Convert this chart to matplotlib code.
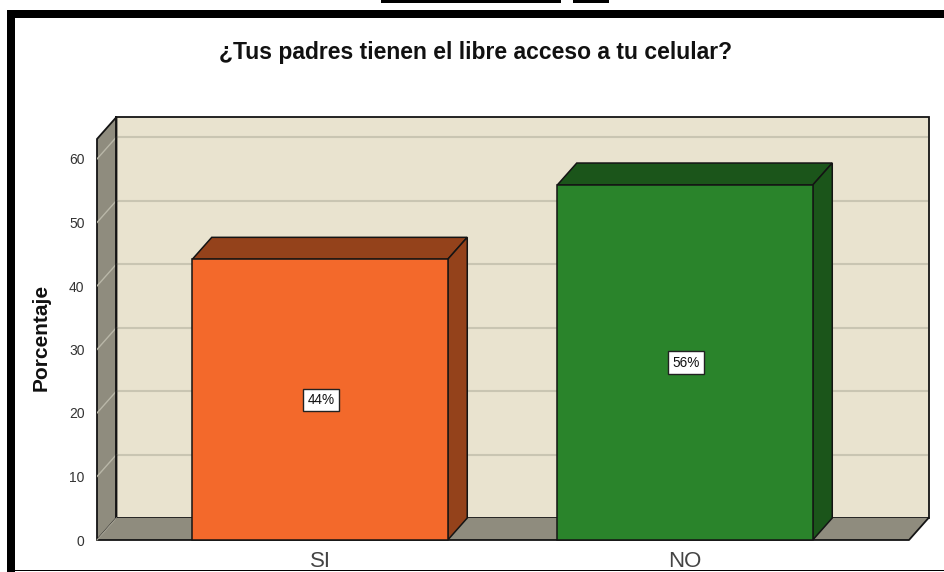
import matplotlib
matplotlib.use("Agg")
import matplotlib.pyplot as plt
from matplotlib.patches import Polygon, Rectangle

plt.rcParams['font.family'] = ['Liberation Sans', 'DejaVu Sans']

categories = ["SI", "NO"]
values = [44.2, 55.9]
value_labels = ["44%", "56%"]
y_ticks = [0, 10, 20, 30, 40, 50, 60]
title = "¿Tus padres tienen el libre acceso a tu celular?"
y_title = "Porcentaje"

W, H = 944, 572
fig = plt.figure(figsize=(W / 100, H / 100), dpi=100, facecolor="white")

ax = fig.add_axes([97 / W, 1 - 540 / H, (928 - 97) / W, (540 - 117) / H])
PX_X = 365.0
PX_Y = 6.35
x0 = -(320 - 97) / PX_X
ax.set_xlim(x0, x0 + (928 - 97) / PX_X)
ax.set_ylim(0, (540 - 117) / PX_Y)
ax.patch.set_visible(False)
for s in ax.spines.values():
    s.set_visible(False)

dx = 19.5 / PX_X
dy = 22 / PX_Y
xmax = x0 + (909 - 97) / PX_X
top = (540 - 139) / PX_Y
WALL = "#e9e3cf"
SIDE = "#8f8c7e"
GRID = "#c9c5b2"
EDGE = "#141414"

ax.add_patch(Rectangle((x0 + dx, dy), xmax - x0, top, fc=WALL, ec=EDGE, lw=1.3, zorder=1, clip_on=False))
ax.add_patch(Polygon([(x0, 0), (x0 + dx, dy), (x0 + dx, top + dy), (x0, top)],
                     fc=SIDE, ec=EDGE, lw=1.3, zorder=2, clip_on=False))
ax.add_patch(Polygon([(x0, 0), (xmax, 0), (xmax + dx, dy), (x0 + dx, dy)],
                     fc=SIDE, ec="none", zorder=2, clip_on=False))
ax.plot([x0, xmax, xmax + dx], [0, 0, dy], color=EDGE, lw=1.3, zorder=2.2, clip_on=False)
ax.plot([x0 + dx, x0 + dx], [0 + dy, top + dy], color=EDGE, lw=1.3, zorder=2.2, clip_on=False)
for t in y_ticks[1:]:
    ax.plot([x0 + dx, xmax + dx], [t + dy, t + dy], color=GRID, lw=1.5, zorder=1.5)
    ax.plot([x0, x0 + dx], [t, t + dy], color="#b9b7a8", lw=1.0, zorder=2.1)
ax.plot([x0, x0 + dx], [0, dy], color="#a5a294", lw=0.8, zorder=2.3, clip_on=False)

bar_w = 0.70
front = ["#f3692b", "#2a842b"]
shade = ["#94421b", "#1b551a"]
for i, (v, lab) in enumerate(zip(values, value_labels)):
    l, r = i - bar_w / 2, i + bar_w / 2
    ax.add_patch(Polygon([(l, v), (r, v), (r + dx, v + dy), (l + dx, v + dy)],
                         fc=shade[i], ec=EDGE, lw=1.1, zorder=3))
    ax.add_patch(Polygon([(r, 0), (r + dx, dy), (r + dx, v + dy), (r, v)],
                         fc=shade[i], ec=EDGE, lw=1.1, zorder=3))
    ax.add_patch(Rectangle((l, 0), bar_w, v, fc=front[i], ec=EDGE, lw=1.1, zorder=4, clip_on=False))
    ax.text(i + 0.003, v / 2, lab, ha="center", va="center", fontsize=9.8, color="#111111",
            zorder=5, bbox=dict(boxstyle="square,pad=0.3", fc="white", ec="#222222", lw=1.0))

ax.set_xticks(range(len(categories)), categories)
ax.set_yticks(y_ticks, [str(t) for t in y_ticks])
ax.tick_params(axis="both", length=0)
ax.tick_params(axis="x", pad=8, labelsize=16, labelcolor="#444444")
ax.tick_params(axis="y", pad=9, labelsize=10, labelcolor="#333333")

fig.text(476 / W, 1 - 52 / H, title, ha="center", va="center", fontsize=16.5,
         fontweight="bold", color="#111111")
fig.text(41 / W, 1 - 337 / H, y_title, rotation=90, ha="center", va="center",
         fontsize=15, fontweight="bold", color="#111111")

def band(x1, y1, x2, y2):
    fig.add_artist(Rectangle((x1 / W, 1 - y2 / H), (x2 - x1) / W, (y2 - y1) / H,
                             transform=fig.transFigure, fc="black", ec="none"))
band(7, 10, W, 18)
band(7, 10, 14.5, 572)
band(14, 570, W, 571)
band(381, 0, 561, 3)
band(573, 0, 609, 3)

fig.savefig("out.png", dpi=100)
